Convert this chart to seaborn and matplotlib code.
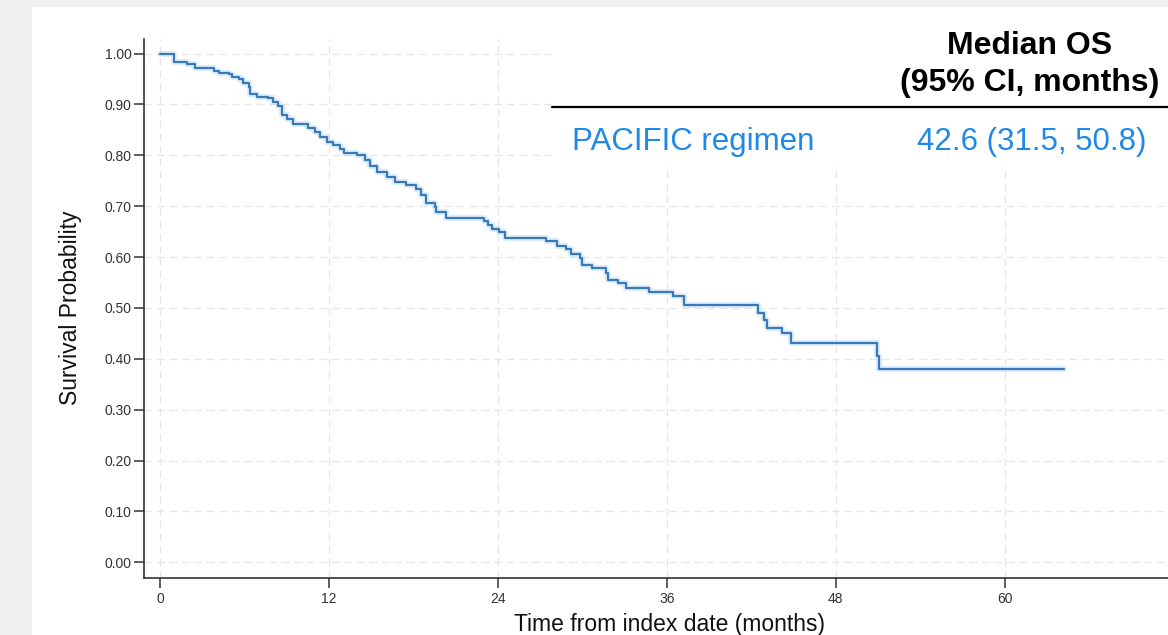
"""Kaplan-Meier overall survival curve, PACIFIC regimen, with a median OS table."""

import matplotlib
matplotlib.use("Agg")
import matplotlib.pyplot as plt
import pandas as pd
import seaborn as sns
from matplotlib.lines import Line2D
from matplotlib.patches import Rectangle

# ---------------------------------------------------------------------------
# Data
# ---------------------------------------------------------------------------

months = [0, 0.98, 1.92, 2.51, 3.81, 4.17, 4.87, 5.1, 5.58, 5.93,
          6.29, 6.4, 6.88, 7.7, 8.06, 8.41, 8.65, 9.0, 9.47, 10.54,
          11.0, 11.36, 11.83, 12.3, 12.8, 13.1, 13.96, 14.55, 14.9, 15.4,
          16.1, 16.7, 17.5, 18.2, 18.55, 18.9, 19.5, 19.6, 20.33, 23.04,
          23.3, 23.6, 24.1, 24.5, 27.4, 28.2, 28.8, 29.2, 29.8, 30.0,
          30.7, 31.7, 31.8, 32.5, 33.1, 34.7, 36.4, 37.2, 42.5, 42.9,
          43.1, 44.2, 44.8, 50.9, 51.06, 64.2]
survival = [1.0, 0.984, 0.979, 0.971, 0.966, 0.962, 0.959, 0.954, 0.950, 0.942,
            0.935, 0.921, 0.915, 0.912, 0.905, 0.897, 0.879, 0.872, 0.861, 0.854,
            0.846, 0.836, 0.827, 0.820, 0.812, 0.804, 0.800, 0.791, 0.778, 0.768,
            0.757, 0.748, 0.741, 0.733, 0.722, 0.706, 0.699, 0.689, 0.677, 0.670,
            0.663, 0.655, 0.650, 0.638, 0.632, 0.621, 0.615, 0.606, 0.598, 0.585,
            0.578, 0.569, 0.555, 0.549, 0.539, 0.532, 0.523, 0.506, 0.490, 0.477,
            0.461, 0.451, 0.432, 0.405, 0.380, 0.380]

x_ticks = [0, 12, 24, 36, 48, 60, 72]
x_tick_labels = ["0", "12", "24", "36", "48", "60", ""]  # 72 falls off the crop
y_ticks = [0.0, 0.1, 0.2, 0.3, 0.4, 0.5, 0.6, 0.7, 0.8, 0.9, 1.0]

table_header = ["Median OS", "(95% CI, months)"]
arm_label = "PACIFIC regimen"
arm_median = "42.6 (31.5, 50.8)"

df = pd.DataFrame({"months": months, "survival": survival})

# ---------------------------------------------------------------------------
# Styling
# ---------------------------------------------------------------------------

sns.set_theme(style="white")
plt.rcParams["font.family"] = ["Liberation Sans", "DejaVu Sans"]

W, H = 1168, 635
LINE_COLOR = "#3b78b8"
TEXT_BLUE = "#1f88e8"
AXIS_COLOR = "#333333"

fig = plt.figure(figsize=(W / 100, H / 100), dpi=100)
fig.patch.set_facecolor("#f0f0f0")
fig.add_artist(Rectangle((32 / W, 0), 1 - 32 / W, 1 - 7 / H,
                         transform=fig.transFigure, facecolor="white",
                         edgecolor="none", zorder=-1))

ax = fig.add_axes([144.3 / W, 56.7 / H, 1036.5 / W, 539 / H])
ax.set_facecolor("white")

# light halo under the curve, then the curve itself
sns.lineplot(data=df, x="months", y="survival", drawstyle="steps-post",
             estimator=None, color="#9fd0f5", alpha=0.35, linewidth=4.5, ax=ax)
sns.lineplot(data=df, x="months", y="survival", drawstyle="steps-post",
             estimator=None, color=LINE_COLOR, linewidth=1.6, ax=ax)

ax.set_xlim(-1.115, 72.5)
ax.set_ylim(-0.0314, 1.028)
ax.set_xticks(x_ticks)
ax.set_xticklabels(x_tick_labels)
ax.set_yticks(y_ticks)
ax.set_yticklabels([f"{v:.2f}" for v in y_ticks])

ax.set_axisbelow(True)
ax.grid(True, color="#e6e6e6", linestyle=(0, (6, 4)), linewidth=0.9)

for side in ("top", "right"):
    ax.spines[side].set_visible(False)
for side in ("left", "bottom"):
    ax.spines[side].set_color(AXIS_COLOR)
    ax.spines[side].set_linewidth(1.2)

ax.tick_params(axis="both", which="major", direction="out", length=7,
               width=1.1, color=AXIS_COLOR, labelcolor=AXIS_COLOR,
               labelsize=10, left=True, bottom=True)
ax.tick_params(axis="y", pad=2)
ax.tick_params(axis="x", pad=3)

ax.set_xlabel("Time from index date (months)", fontsize=16.5, color="#111111")
ax.set_ylabel("Survival Probability", fontsize=16.5, color="#111111")
ax.xaxis.label.set_va("center")
ax.yaxis.label.set_va("center")
ax.xaxis.set_label_coords((670 - 144.3) / 1036.5, -(624 - 578.3) / 539)
ax.yaxis.set_label_coords((70 - 144.3) / 1036.5, (578.3 - 308) / 539)

# ---------------------------------------------------------------------------
# Median OS table (white panel over the grid)
# ---------------------------------------------------------------------------

fig.add_artist(Rectangle((551.7 / W, 1 - 165 / H), 1 - 551.7 / W, (165 - 7) / H,
                         transform=fig.transFigure, facecolor="white",
                         edgecolor="none", zorder=3))
fig.add_artist(Line2D([551.7 / W, 1.0], [1 - 106.7 / H, 1 - 106.7 / H],
                      transform=fig.transFigure, color="black",
                      linewidth=1.6, zorder=4))

fig.text(1030 / W, 1 - 53.5 / H, table_header[0], ha="center", va="baseline",
         fontsize=23, fontweight="bold", color="black", zorder=5)
fig.text(1030 / W, 1 - 91.5 / H, table_header[1], ha="center", va="baseline",
         fontsize=23, fontweight="bold", color="black", zorder=5)
fig.text(571.7 / W, 1 - 150 / H, arm_label, ha="left", va="baseline",
         fontsize=22.5, color=TEXT_BLUE, zorder=5)
fig.text(1146.7 / W, 1 - 150 / H, arm_median, ha="right", va="baseline",
         fontsize=22.5, color=TEXT_BLUE, zorder=5)

fig.savefig("out.png", dpi=100, facecolor=fig.get_facecolor())
